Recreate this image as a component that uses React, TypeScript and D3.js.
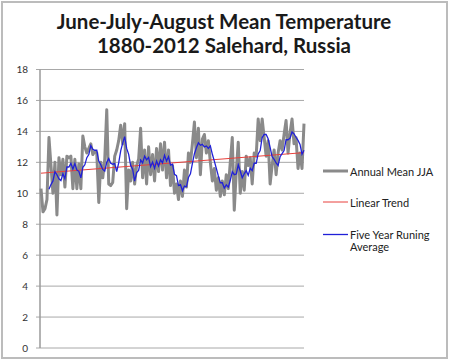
import React from "react";
import * as d3 from "d3";

// Salekhard summer (JJA) mean temperature, °C, 1880-2012
const firstYear = 1880;
const lastYear = 2012;
const annualMeanJJA: number[] = [
  10.3, 8.8, 9.0, 9.6, 13.6, 11.8, 10.0, 12.0, 8.6, 12.3,
  11.2, 12.2, 10.4, 12.4, 12.3, 12.4, 10.3, 12.2, 10.3, 11.9,
  10.3, 13.7, 13.0, 12.6, 12.9, 13.2, 12.5, 12.7, 12.6, 9.4,
  12.0, 11.0, 12.2, 15.4, 10.6, 10.5, 10.7, 12.4, 12.8, 13.4,
  14.4, 13.2, 14.5, 9.0, 11.5, 10.8, 12.0, 10.6, 11.8, 12.2,
  14.2, 11.0, 12.8, 10.6, 13.0, 11.2, 12.5, 10.8, 12.9, 11.4,
  13.2, 11.5, 13.3, 11.0, 12.8, 10.5, 11.8, 10.0, 10.6, 9.6,
  10.8, 9.8, 11.5, 10.4, 12.6, 12.0, 13.2, 14.6, 12.3, 14.2,
  11.2, 13.5, 13.8, 12.6, 13.4, 12.0, 10.8, 11.6, 10.2, 11.0,
  9.8, 10.8, 9.9, 11.2, 10.3, 12.0, 13.6, 8.9, 11.4, 13.3,
  10.0, 11.4, 10.2, 12.4, 11.8, 12.3, 10.6, 12.6, 12.4, 14.8,
  13.4, 14.8, 13.6, 12.4, 13.4, 10.6, 11.8, 12.8, 11.2, 12.6,
  13.4, 12.8, 13.8, 14.7, 12.6, 13.9, 14.8, 13.2, 13.6, 11.6,
  12.6, 11.6, 14.5,
];
const yTicks = [0, 2, 4, 6, 8, 10, 12, 14, 16, 18];
const titleLines = ["June-July-August Mean Temperature", "1880-2012 Salehard, Russia"];
const legendItems = [
  { key: "annual", lines: ["Annual Mean JJA"], color: "#8a8a8a", width: 3 },
  { key: "trend", lines: ["Linear Trend"], color: "#e8413c", width: 1 },
  { key: "avg", lines: ["Five Year Runing", "Average"], color: "#2020d8", width: 1.3 },
];

const W = 450;
const H = 362;
const plot = { left: 40, right: 305, top: 69.5, bottom: 348 };
const font = "Lato, 'Open Sans', sans-serif";

export default function App() {
  const years = d3.range(firstYear, lastYear + 1);
  const data = years.map((year, i) => ({ year, value: annualMeanJJA[i] }));

  const x = d3.scalePoint<number>().domain(years).range([plot.left, plot.right]).padding(0.5);
  const y = d3.scaleLinear().domain([0, 18]).range([plot.bottom, plot.top]);

  // trailing five-year moving average (starts at the fifth year)
  const running = data.slice(4).map((d, k) => ({
    year: d.year,
    value: d3.mean(annualMeanJJA.slice(k, k + 5)) as number,
  }));

  // least-squares linear trend
  const mx = d3.mean(years) as number;
  const my = d3.mean(annualMeanJJA) as number;
  const slope =
    d3.sum(data, (d) => (d.year - mx) * (d.value - my)) / d3.sum(years, (yr) => (yr - mx) ** 2);
  const trend = [firstYear, lastYear].map((yr) => ({ year: yr, value: my + slope * (yr - mx) }));

  const line = d3
    .line<{ year: number; value: number }>()
    .x((d) => x(d.year) as number)
    .y((d) => y(d.value));

  const legendY = [171, 202, 234.5];

  return (
    <div style={{ position: "absolute", left: 0, top: 0 }}>
      <svg width={W} height={H} style={{ display: "block", background: "#fff" }}>
        <rect x={2} y={2} width={445} height={356} fill="#fff" stroke="#bcbcbc" strokeWidth={2} />

        {titleLines.map((t, i) => (
          <text
            key={t}
            x={224}
            y={29 + i * 24}
            textAnchor="middle"
            fontFamily={font}
            fontWeight="bold"
            fontSize={20.5}
            fill="#1a1a1a"
          >
            {t}
          </text>
        ))}

        {yTicks.map((t) => (
          <g key={t}>
            <line x1={plot.left - 4} x2={plot.right - 1} y1={y(t)} y2={y(t)} stroke="#a8a8a8" strokeWidth={1} />
            <text x={28} y={y(t)} dy="0.35em" textAnchor="end" fontFamily={font} fontSize={10} fill="#333">
              {t}
            </text>
          </g>
        ))}
        <line x1={plot.left} x2={plot.left} y1={plot.top} y2={plot.bottom} stroke="#9a9a9a" strokeWidth={1.5} />

        <path d={line(data) ?? ""} fill="none" stroke="#8a8a8a" strokeWidth={3} strokeLinejoin="round" />
        <path d={line(trend) ?? ""} fill="none" stroke="#e8413c" strokeWidth={1} />
        <path d={line(running) ?? ""} fill="none" stroke="#2020d8" strokeWidth={1.3} />

        {legendItems.map((item, i) => (
          <g key={item.key}>
            <line x1={323} x2={348} y1={legendY[i]} y2={legendY[i]} stroke={item.color} strokeWidth={item.width} />
            {item.lines.map((l, j) => (
              <text
                key={l}
                x={350}
                y={legendY[i] + 4.5 + j * 12}
                fontFamily={font}
                fontSize={11}
                fill="#222"
              >
                {l}
              </text>
            ))}
          </g>
        ))}
      </svg>
    </div>
  );
}
